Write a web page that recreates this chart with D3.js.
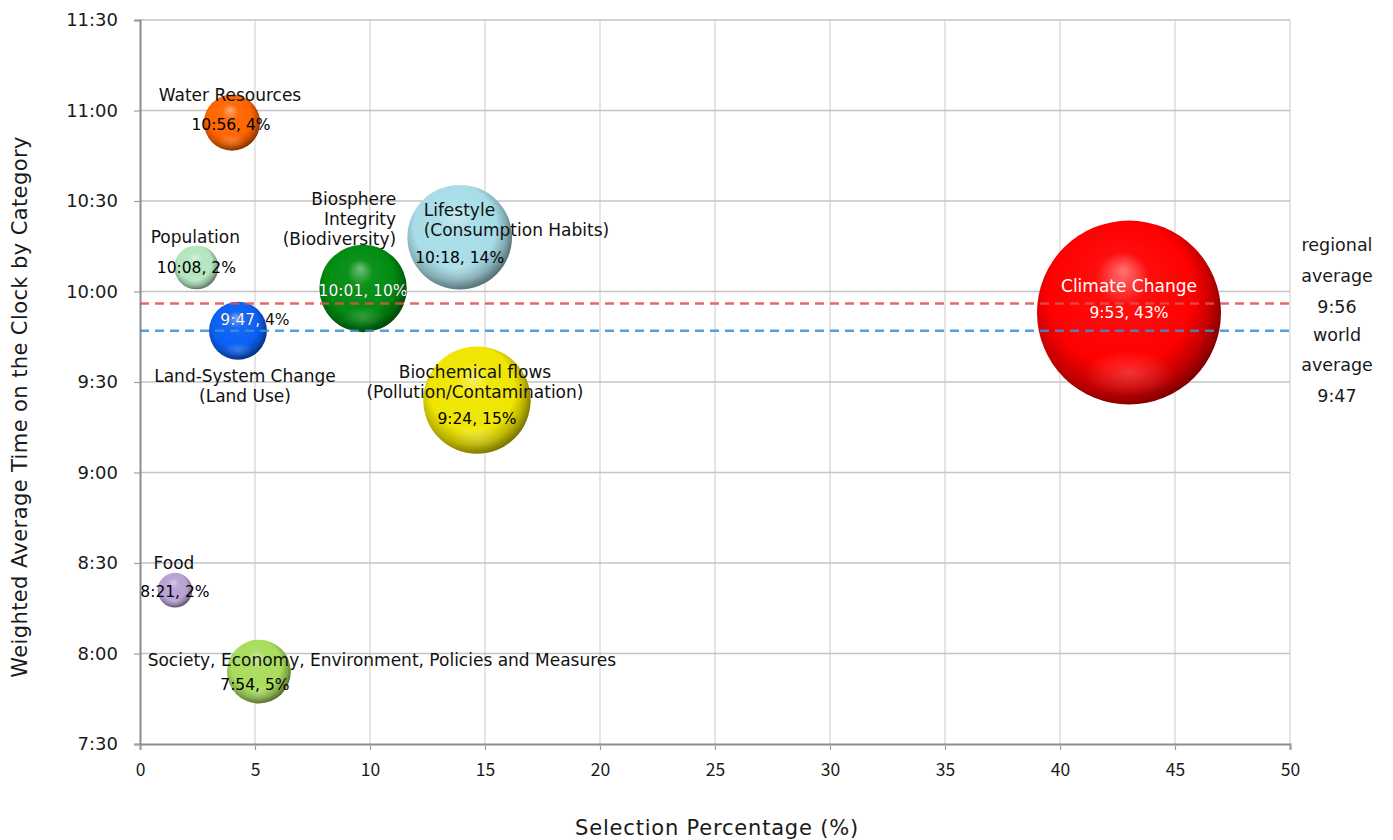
<!DOCTYPE html>
<html>
<head>
<meta charset="utf-8">
<script src="https://cdn.jsdelivr.net/npm/d3@7"></script>
<style>
  html, body { margin: 0; padding: 0; background: #ffffff; }
  svg { display: block; }
</style>
</head>
<body>
<svg id="chart" width="1393" height="840"></svg>
<script>
// ---- data ----
const categories = [
  "Water Resources",
  "Population",
  "Biosphere Integrity (Biodiversity)",
  "Lifestyle (Consumption Habits)",
  "Land-System Change (Land Use)",
  "Biochemical flows (Pollution/Contamination)",
  "Climate Change",
  "Food",
  "Society, Economy, Environment, Policies and Measures"
];
// label lines for each category name
const nameLines = [
  ["Water Resources"],
  ["Population"],
  ["Biosphere", "Integrity", "(Biodiversity)"],
  ["Lifestyle", "(Consumption Habits)"],
  ["Land-System Change", "(Land Use)"],
  ["Biochemical flows", "(Pollution/Contamination)"],
  ["Climate Change"],
  ["Food"],
  ["Society, Economy, Environment, Policies and Measures"]
];
const selectionPct = [4.0, 2.45, 9.7, 13.9, 4.26, 14.65, 43.0, 1.52, 5.17];
const clockTimes   = ["10:56", "10:08", "10:01", "10:18", "9:47", "9:24", "9:53", "8:21", "7:54"];
const bubbleSize   = selectionPct;

const xTicks = [0, 5, 10, 15, 20, 25, 30, 35, 40, 45, 50];
const yTickLabels = ["7:30", "8:00", "8:30", "9:00", "9:30", "10:00", "10:30", "11:00", "11:30"];

const refLabels = ["regional average", "world average"];
const refTimes  = ["9:56", "9:47"];

// ---- styling ----
const bubbleColors = ["#ff6400", "#b4e6c0", "#008c10", "#a8dde8", "#0a60f4",
                      "#f0e600", "#ff0000", "#b8a2d4", "#a8dc5c"];
const refColors = ["#e05050", "#3c8fd2"];

// label placement relative to bubble centre
const labelLayout = [
  { anchor: "middle", ndx: -2,  ndy: -28, vdx: -1, vdy: 2,  vcol: "#000" },
  { anchor: "middle", ndx: -1,  ndy: -30, vdx: 0,  vdy: 1,  vcol: "#000" },
  { anchor: "end",    ndx: 33,  ndy: -89, vdx: 0,  vdy: 3,  vcol: "split" },
  { anchor: "start",  ndx: -36, ndy: -27, vdx: 0,  vdy: 21, vcol: "#000" },
  { anchor: "middle", ndx: 7,   ndy: 45,  vdx: 17, vdy: -11, vcol: "split" },
  { anchor: "middle", ndx: -2,  ndy: -28, vdx: 0,  vdy: 19, vcol: "#000" },
  { anchor: "middle", ndx: 0,   ndy: -27, vdx: 0,  vdy: 0,  vcol: "#fff", ncol: "#fff" },
  { anchor: "middle", ndx: -1,  ndy: -27, vdx: 0,  vdy: 2,  vcol: "#000" },
  { anchor: "middle", ndx: 123, ndy: -12, vdx: -4, vdy: 13, vcol: "#000" }
];

const toMin = s => { const [h, m] = s.split(":").map(Number); return h * 60 + m; };
const fmtTime = v => Math.floor(v / 60) + ":" + String(v % 60).padStart(2, "0");

const svg = d3.select("#chart");
const plotL = 140, plotR = 1290, plotT = 20, plotB = 744;

const x = d3.scaleLinear().domain([0, 50]).range([plotL, plotR]);
const y = d3.scaleLinear().domain([toMin("7:30"), toMin("11:30")]).range([plotB, plotT]);
const r = d3.scaleSqrt().domain([0, d3.max(bubbleSize)]).range([0, 92]);

const labelFont = "'DejaVu Sans', Verdana, sans-serif";
const tickFont = "'Noto Sans CJK JP', 'Noto Sans', sans-serif";

// ---- gridlines ----
const grid = svg.append("g");
grid.selectAll("line.v").data(xTicks.slice(1)).join("line")
  .attr("x1", d => x(d)).attr("x2", d => x(d))
  .attr("y1", plotT).attr("y2", plotB)
  .attr("stroke", "#d4d4d4").attr("stroke-width", 1.2);
grid.selectAll("line.h").data(yTickLabels.slice(1).map(toMin)).join("line")
  .attr("x1", plotL).attr("x2", plotR)
  .attr("y1", d => y(d)).attr("y2", d => y(d))
  .attr("stroke", "#c4c4c4").attr("stroke-width", 1.4);

// ---- axes ----
const xAxis = d3.axisBottom(x).tickValues(xTicks).tickSize(6).tickPadding(14).tickFormat(d3.format("d"));
const yAxis = d3.axisLeft(y).tickValues(yTickLabels.map(toMin)).tickSize(6).tickPadding(16).tickFormat(fmtTime);

const gx = svg.append("g").attr("transform", `translate(0,${plotB})`).call(xAxis);
const gy = svg.append("g").attr("transform", `translate(${plotL},0)`).call(yAxis);
[gx, gy].forEach(g => {
  g.select(".domain").attr("stroke", "#8c8c8c").attr("stroke-width", 2);
  g.selectAll(".tick line").attr("stroke", "#a0a0a0").attr("stroke-width", 1.2);
  g.selectAll(".tick text").attr("fill", "#1a1a1a");
});
gx.selectAll(".tick text").style("font-family", tickFont).style("font-size", "17.5px");
gy.selectAll(".tick text").style("font-family", labelFont).style("font-size", "18px");

// axis titles
svg.append("text")
  .attr("x", (plotL + plotR) / 2 + 2).attr("y", 828)
  .attr("text-anchor", "middle").attr("dominant-baseline", "central")
  .style("font-family", labelFont).style("font-size", "21px").style("letter-spacing", "0.8px")
  .attr("fill", "#1a1a1a")
  .text("Selection Percentage (%)");
svg.append("text")
  .attr("transform", `translate(20,${(plotT + plotB) / 2 + 25}) rotate(-90)`)
  .attr("text-anchor", "middle").attr("dominant-baseline", "central")
  .style("font-family", labelFont).style("font-size", "21px").style("letter-spacing", "0.4px")
  .attr("fill", "#1a1a1a")
  .text("Weighted Average Time on the Clock by Category");

// ---- bubble gradients ----
const defs = svg.append("defs");
bubbleColors.forEach((c, i) => {
  const base = d3.color(c);
  const g = defs.append("radialGradient").attr("id", "ball" + i)
    .attr("cx", "0.45").attr("cy", "0.45").attr("r", "0.58")
    .attr("fx", "0.47").attr("fy", "0.27");
  g.append("stop").attr("offset", "0%").attr("stop-color", d3.interpolateRgb(c, "#ffffff")(0.45));
  g.append("stop").attr("offset", "25%").attr("stop-color", d3.interpolateRgb(c, "#ffffff")(0.05));
  g.append("stop").attr("offset", "68%").attr("stop-color", c);
  g.append("stop").attr("offset", "85%").attr("stop-color", base.darker(0.7));
  g.append("stop").attr("offset", "100%").attr("stop-color", base.darker(2.2));
});
const glow = defs.append("radialGradient").attr("id", "glow")
  .attr("cx", "0.5").attr("cy", "0.5").attr("r", "0.5");
glow.append("stop").attr("offset", "0%").attr("stop-color", "#ffffff").attr("stop-opacity", 0.2);
glow.append("stop").attr("offset", "100%").attr("stop-color", "#ffffff").attr("stop-opacity", 0);

const points = categories.map((c, i) => ({
  i, name: c, lines: nameLines[i], pct: selectionPct[i], time: toMin(clockTimes[i]),
  size: bubbleSize[i], color: bubbleColors[i], lay: labelLayout[i]
}));

// ---- bubbles ----
const bub = svg.append("g").selectAll("g").data(points).join("g")
  .attr("transform", d => `translate(${x(d.pct)},${y(d.time)})`);
bub.append("circle")
  .attr("r", d => r(d.size))
  .attr("fill", d => `url(#ball${d.i})`);
bub.append("ellipse")
  .attr("cx", 0).attr("cy", d => r(d.size) * 0.66)
  .attr("rx", d => r(d.size) * 0.5).attr("ry", d => r(d.size) * 0.25)
  .attr("fill", "url(#glow)");
defs.selectAll("clipPath.bc").data(points).join("clipPath")
  .attr("id", d => "clip" + d.i)
  .append("circle")
  .attr("cx", d => x(d.pct)).attr("cy", d => y(d.time)).attr("r", d => r(d.size));

// ---- reference lines ----
refTimes.forEach((t, k) => {
  svg.append("line")
    .attr("x1", plotL).attr("x2", plotR)
    .attr("y1", y(toMin(t))).attr("y2", y(toMin(t)))
    .attr("stroke", refColors[k]).attr("stroke-width", 2.4)
    .attr("stroke-dasharray", "9,6").attr("opacity", 0.85);
});
const refText = svg.append("g").style("font-family", labelFont).style("font-size", "17.5px").attr("fill", "#1a1a1a");
const refRows = [];
refLabels.forEach((lab, k) => { lab.split(" ").forEach(w => refRows.push(w)); refRows.push(refTimes[k]); });
const refY = [245, 276, 307, 335, 365, 396];
refRows.forEach((t, k) => {
  refText.append("text").attr("x", 1337).attr("y", refY[k])
    .attr("text-anchor", "middle").attr("dominant-baseline", "central").text(t);
});

// ---- data labels ----
const pctFmt = d3.format(".0f");
const labels = svg.append("g").style("font-family", labelFont).style("font-size", "17px");
points.forEach(d => {
  const cx = x(d.pct), cy = y(d.time), L = d.lay;
  const nameX = cx + L.ndx;
  d.lines.forEach((line, j) => {
    labels.append("text")
      .attr("x", nameX).attr("y", cy + L.ndy + j * 20)
      .attr("text-anchor", L.anchor).attr("dominant-baseline", "central")
      .attr("fill", L.ncol || "#111").text(line);
  });
  const vtxt = fmtTime(d.time) + ", " + pctFmt(d.pct) + "%";
  const vx = cx + L.vdx, vy = cy + L.vdy;
  const valueText = fill => labels.append("text").attr("x", vx).attr("y", vy)
    .attr("text-anchor", "middle").attr("dominant-baseline", "central")
    .style("font-size", "15.5px").attr("fill", fill).text(vtxt);
  if (L.vcol === "split") {
    // dark outside the bubble, white where it sits on the bubble
    valueText("#111");
    valueText("#fff").attr("clip-path", `url(#clip${d.i})`);
  } else {
    valueText(L.vcol);
  }
});
</script>
</body>
</html>
